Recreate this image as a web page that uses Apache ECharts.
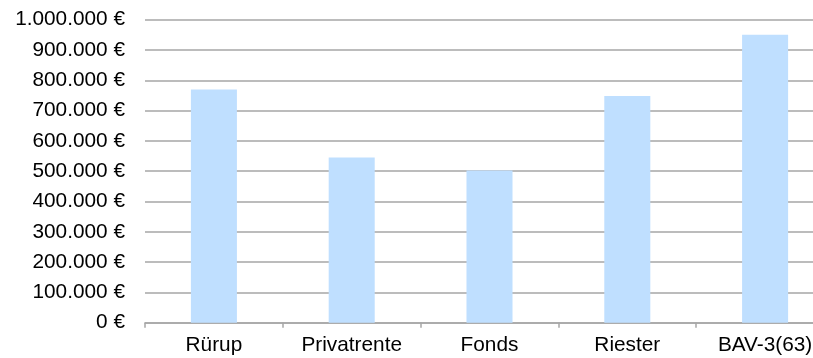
<!DOCTYPE html>
<html>
<head>
<meta charset="utf-8">
<script src="https://cdn.jsdelivr.net/npm/echarts@6/dist/echarts.min.js"></script>
<style>
html,body{margin:0;padding:0;background:#fff;overflow:hidden;}
#c{width:834px;height:358px;}
</style>
</head>
<body>
<div id="c"></div>
<script>
var categories = ['Rürup', 'Privatrente', 'Fonds', 'Riester', 'BAV-3(63)'];
var values = [770000, 545000, 502000, 748000, 950000];
var yMin = 0, yMax = 1000000, yStep = 100000;

function fmt(v) {
  return String(v).replace(/\B(?=(\d{3})+(?!\d))/g, '.') + ' €';
}

var chart = echarts.init(document.getElementById('c'), null, {renderer: 'canvas'});
chart.setOption({
  animation: false,
  backgroundColor: '#ffffff',
  grid: {left: 145, right: 0, top: 19.7, bottom: 35.3, containLabel: false},
  xAxis: {
    type: 'category',
    data: categories,
    boundaryGap: true,
    axisLine: {show: true, lineStyle: {color: '#a6a6a6', width: 1.5}},
    axisTick: {show: true, length: 5, lineStyle: {color: '#a6a6a6', width: 1.5}},
    axisLabel: {interval: 0, hideOverlap: false, color: '#000', fontFamily: '"Liberation Sans", Arial, sans-serif', fontSize: 20.8, margin: 12}
  },
  yAxis: {
    type: 'value',
    min: yMin, max: yMax, interval: yStep,
    axisLine: {show: false},
    axisTick: {show: false},
    splitLine: {show: true, lineStyle: {color: '#a6a6a6', width: 1.5}},
    axisLabel: {color: '#000', fontFamily: '"Liberation Sans", Arial, sans-serif', fontSize: 20.8, margin: 20, formatter: fmt}
  },
  series: [{
    type: 'bar',
    data: values,
    barWidth: '33.4%',
    itemStyle: {color: '#bfdfff'}
  }]
});
</script>
</body>
</html>
